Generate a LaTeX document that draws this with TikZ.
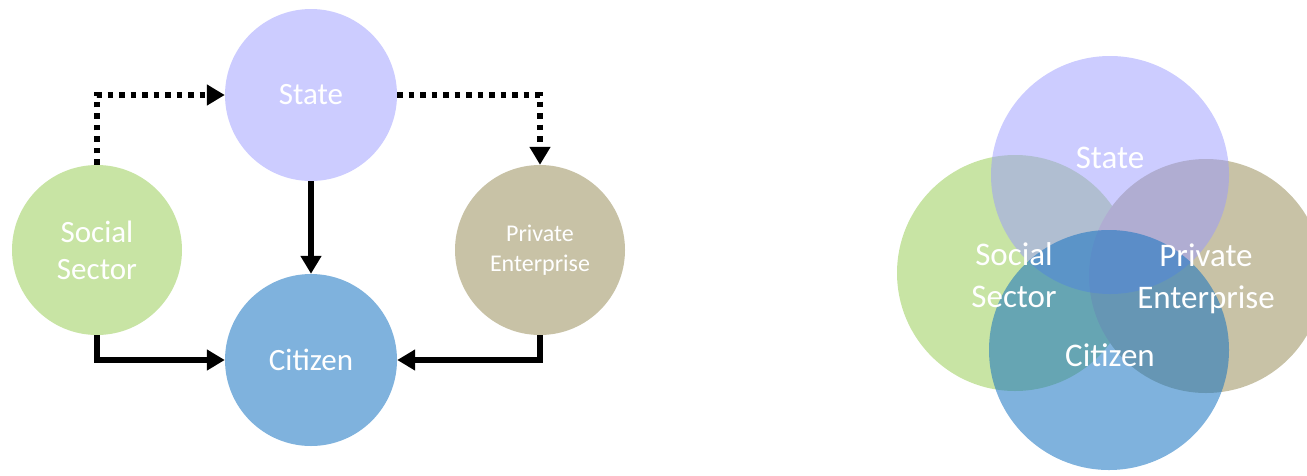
\documentclass[tikz,border=0pt]{standalone}
\usepackage{fontspec}
\setmainfont{Carlito}
\definecolor{statecol}{RGB}{204,204,255}
\definecolor{citizencol}{RGB}{127,178,221}
\definecolor{socialcol}{RGB}{200,228,164}
\definecolor{privatecol}{RGB}{200,194,166}
\definecolor{statebase}{RGB}{153,153,255}
\definecolor{citizenbase}{RGB}{22,115,193}
\usetikzlibrary{arrows.meta}
\begin{document}
\begin{tikzpicture}[x=1pt,y=-1pt,
  main node/.style={circle,inner sep=0pt,minimum size=172pt,text=white,align=center,
    font=\fontsize{31}{37}\selectfont},
  big node/.style={circle,inner sep=0pt,minimum size=238pt},
  big label/.style={text=white,align=center,font=\fontsize{33}{42}\selectfont},
  solid arrow/.style={line width=5.5pt,-{Triangle[length=18pt,width=20pt]}},
  dotted arrow/.style={line width=5.5pt,dash pattern=on 5.5pt off 6pt,-{Triangle[length=18pt,width=20pt]}}]

  \useasboundingbox (0,0) rectangle (1307,475);

  % left: flows between the four actors
  \node[main node,fill=statecol] (state) at (311,95) {State};
  \node[main node,fill=citizencol] (citizen) at (311,360) {Citizen};
  \node[main node,fill=socialcol,minimum size=170pt] (social) at (97,250) {Social\\Sector};
  \node[main node,fill=privatecol,minimum size=170pt,
    font=\fontsize{24}{30}\selectfont] (private) at (540,250) {Private\\Enterprise};

  \draw[dotted arrow] (social.north) |- (state.west);
  \draw[dotted arrow] (state.east) -| (private.north);
  \draw[solid arrow] (state.south) -- (citizen.north);
  \draw[solid arrow] (social.south) |- (citizen.west);
  \draw[solid arrow] (private.south) |- (citizen.east);

  % right: overlapping circles
  \begin{scope}
    \clip (0,0) rectangle (1307,475);
    \node[big node,fill=socialcol,minimum size=236pt] (vsocial) at (1015,273) {};
    \node[big node,fill=privatecol,minimum size=234pt] (vprivate) at (1206,276) {};
    \node[big node,fill=statebase,fill opacity=0.5] (vstate) at (1110,175) {};
    \node[big node,fill=citizenbase,fill opacity=0.55,minimum size=240pt] (vcitizen) at (1109,350) {};
  \end{scope}
  \node[big label] (lstate) at (1110,158) {State};
  \node[big label] (lsocial) at (1014,275) {Social\\Sector};
  \node[big label] (lprivate) at (1206,279) {Private\\Enterprise};
  \node[big label] (lcitizen) at (1110,355) {Citizen};
\end{tikzpicture}
\end{document}
